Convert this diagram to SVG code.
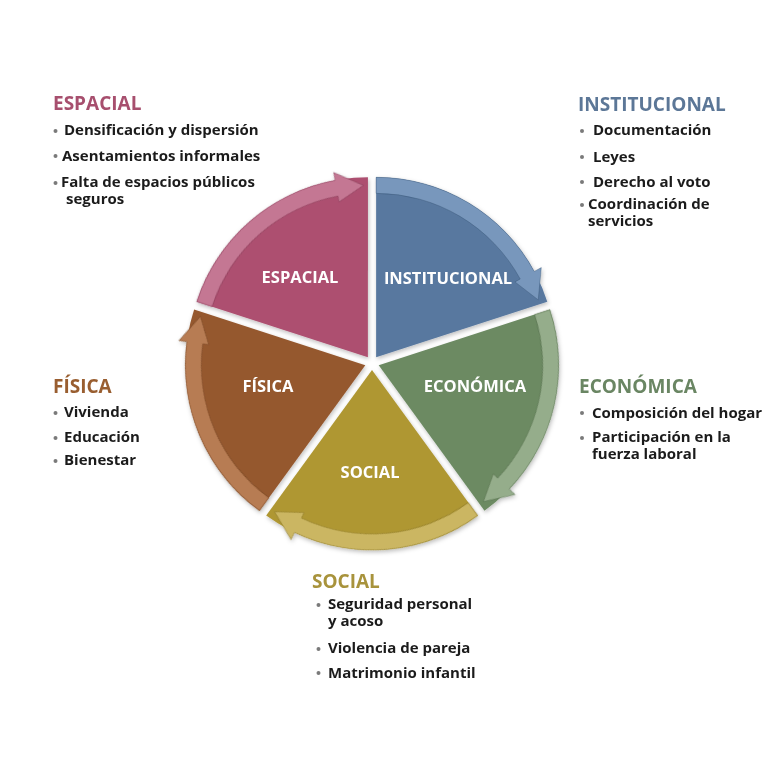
<svg xmlns="http://www.w3.org/2000/svg" width="780" height="780" viewBox="0 0 780 780">
<defs>
<style>
text{font-family:"Open Sans","Liberation Sans",Arial,sans-serif;font-weight:700}
.lbl{fill:#fff;font-size:16.5px;text-anchor:middle}
.hd{font-size:19px}
.it{font-size:15px;fill:#1b1b1b}
.bul{fill:#7a7a7a}
.ring{stroke-width:1;stroke-opacity:.35}
</style>
<filter id="sh" x="-10%" y="-10%" width="120%" height="120%">
<feDropShadow dx="1" dy="2" stdDeviation="2" flood-color="#000" flood-opacity="0.25"/>
</filter>
</defs>
<rect width="780" height="780" fill="#fff"/>

<g id="wheel" filter="url(#sh)">
<g id="node-institucional">
<path transform="translate(376.1,357.3)" fill="#58789F" d="M0,0 L0,-180 A180,180 0 0 1 171.2,-55.6 Z"/>
</g>
<g id="node-economica">
<path transform="translate(378.7,365.2) rotate(72)" fill="#6C8A62" d="M0,0 L0,-180 A180,180 0 0 1 171.2,-55.6 Z"/>
</g>
<g id="node-social">
<path transform="translate(372,370) rotate(144)" fill="#AF9733" d="M0,0 L0,-180 A180,180 0 0 1 171.2,-55.6 Z"/>
</g>
<g id="node-fisica">
<path transform="translate(365.3,365.2) rotate(216)" fill="#95582F" d="M0,0 L0,-180 A180,180 0 0 1 171.2,-55.6 Z"/>
</g>
<g id="node-espacial">
<path transform="translate(367.9,357.3) rotate(288)" fill="#AD5070" d="M0,0 L0,-180 A180,180 0 0 1 171.2,-55.6 Z"/>
</g>

<g id="connectors">
<path class="ring" transform="translate(376.1,357.3)" fill="#7897BC" stroke="#2f4a6a" d="M0,-180 A180,180 0 0 1 158.18,-85.9 L165.21,-89.71 L162.13,-57.41 L138.85,-75.4 L144.12,-78.26 A164,164 0 0 0 0,-164 Z"/>
<path class="ring" transform="translate(378.7,365.2) rotate(72)" fill="#95AD8B" stroke="#3e5536" d="M0,-180 A180,180 0 0 1 158.18,-85.9 L165.21,-89.71 L162.13,-57.41 L138.85,-75.4 L144.12,-78.26 A164,164 0 0 0 0,-164 Z"/>
<path class="ring" transform="translate(372,370) rotate(144)" fill="#CBB662" stroke="#6d5c12" d="M0,-180 A180,180 0 0 1 158.18,-85.9 L165.21,-89.71 L162.13,-57.41 L138.85,-75.4 L144.12,-78.26 A164,164 0 0 0 0,-164 Z"/>
<path class="ring" transform="translate(365.3,365.2) rotate(216)" fill="#B77B52" stroke="#5a3210" d="M0,-180 A180,180 0 0 1 158.18,-85.9 L165.21,-89.71 L162.13,-57.41 L138.85,-75.4 L144.12,-78.26 A164,164 0 0 0 0,-164 Z"/>
<path class="ring" transform="translate(367.9,357.3) rotate(288)" fill="#C47793" stroke="#6a2540" d="M0,-180 A180,180 0 0 1 158.18,-85.9 L165.21,-89.71 L162.13,-57.41 L138.85,-75.4 L144.12,-78.26 A164,164 0 0 0 0,-164 Z"/>
</g>
</g>

<g id="wedge-labels">
<text class="lbl" x="448" y="284">INSTITUCIONAL</text>
<text class="lbl" x="475" y="392">ECONÓMICA</text>
<text class="lbl" x="370" y="478">SOCIAL</text>
<text class="lbl" x="268" y="392">FÍSICA</text>
<text class="lbl" x="300" y="283">ESPACIAL</text>
</g>

<g id="list-espacial">
<text class="hd" x="53" y="110" fill="#A74F6E">ESPACIAL</text>
<circle class="bul" cx="55.5" cy="131" r="2"/>
<circle class="bul" cx="55.5" cy="156" r="2"/>
<circle class="bul" cx="55.5" cy="183" r="2"/>
<text class="it" x="64" y="135">Densificación y dispersión</text>
<text class="it" x="62" y="161">Asentamientos informales</text>
<text class="it" x="61" y="187">Falta de espacios públicos<tspan x="66" dy="17">seguros</tspan></text>
</g>

<g id="list-institucional">
<text class="hd" x="578" y="111" fill="#5C7797">INSTITUCIONAL</text>
<circle class="bul" cx="582" cy="131" r="2"/>
<circle class="bul" cx="582" cy="157" r="2"/>
<circle class="bul" cx="582" cy="182" r="2"/>
<circle class="bul" cx="582" cy="205" r="2"/>
<text class="it" x="593" y="135">Documentación</text>
<text class="it" x="593" y="162">Leyes</text>
<text class="it" x="593" y="187">Derecho al voto</text>
<text class="it" x="588" y="209">Coordinación de<tspan x="588" dy="17">servicios</tspan></text>
</g>

<g id="list-fisica">
<text class="hd" x="53" y="393" fill="#995E30">FÍSICA</text>
<circle class="bul" cx="55.5" cy="413" r="2"/>
<circle class="bul" cx="55.5" cy="438" r="2"/>
<circle class="bul" cx="55.5" cy="461" r="2"/>
<text class="it" x="64" y="417">Vivienda</text>
<text class="it" x="64" y="442">Educación</text>
<text class="it" x="64" y="465">Bienestar</text>
</g>

<g id="list-economica">
<text class="hd" x="579" y="393" fill="#6A8663">ECONÓMICA</text>
<circle class="bul" cx="582" cy="413" r="2"/>
<circle class="bul" cx="582" cy="438" r="2"/>
<text class="it" x="592" y="418">Composición del hogar</text>
<text class="it" x="592" y="442">Participación en la<tspan x="592" dy="17">fuerza laboral</tspan></text>
</g>

<g id="list-social">
<text class="hd" x="312" y="588" fill="#A8933C">SOCIAL</text>
<circle class="bul" cx="318.5" cy="605" r="2"/>
<circle class="bul" cx="318.5" cy="649" r="2"/>
<circle class="bul" cx="318.5" cy="673" r="2"/>
<text class="it" x="328" y="609">Seguridad personal<tspan x="328" dy="17">y acoso</tspan></text>
<text class="it" x="328" y="653">Violencia de pareja</text>
<text class="it" x="328" y="678">Matrimonio infantil</text>
</g>
</svg>
